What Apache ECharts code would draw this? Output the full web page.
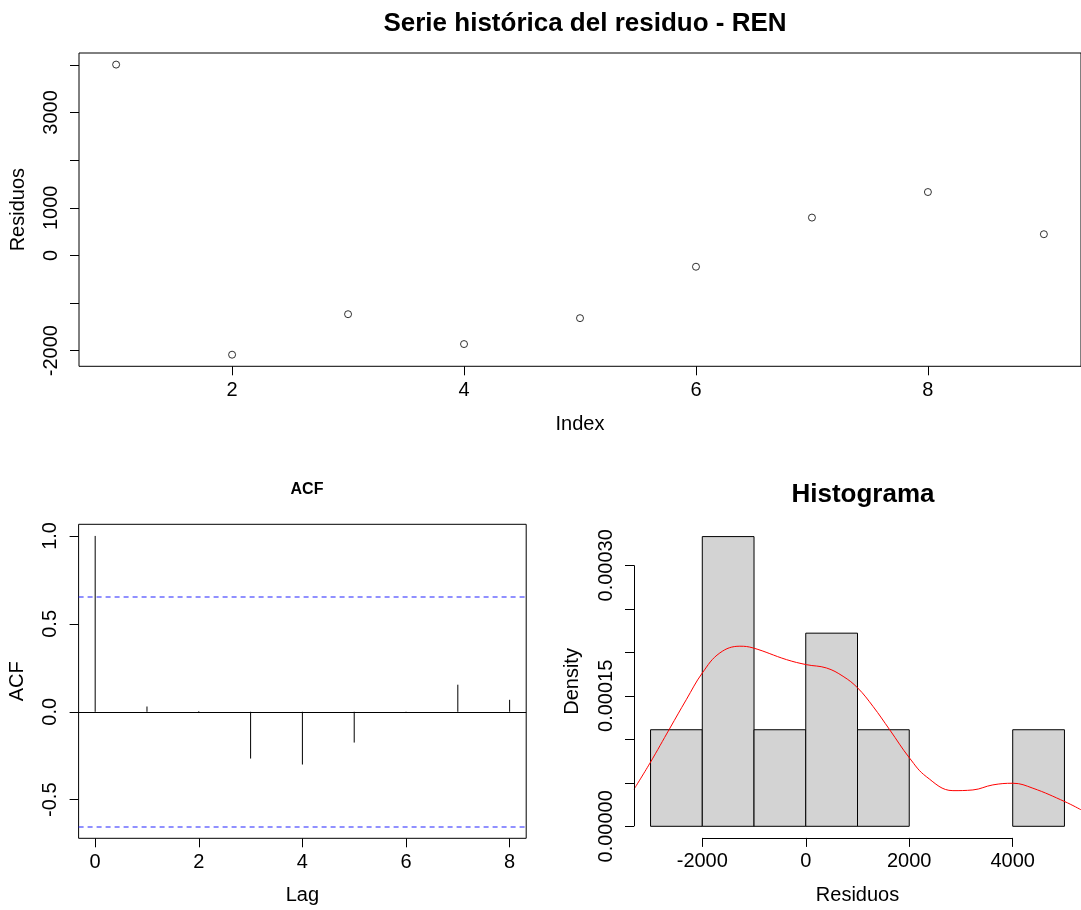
<!DOCTYPE html>
<html>
<head>
<meta charset="utf-8">
<script src="https://cdn.jsdelivr.net/npm/echarts@6/dist/echarts.min.js"></script>
<style>
html,body{margin:0;padding:0;background:#fff;}
#chart{width:1081px;height:910px;}
</style>
</head>
<body>
<div id="chart"></div>
<script>
// ---- Data ----
const indexValues = [1, 2, 3, 4, 5, 6, 7, 8, 9];
const residuals = [4005, -2084, -1234, -1861, -1317, -238, 794, 1330, 445];

const acfLags = [0, 1, 2, 3, 4, 5, 6, 7, 8];
const acfValues = [1.0, 0.03, 0.004, -0.266, -0.30, -0.175, -0.004, 0.154, 0.068];
const acfLimit = 0.6533;

const histBreaks = [-3000, -2000, -1000, 0, 1000, 2000, 3000, 4000, 5000];
const histDensity = [0.000111, 0.000333, 0.000111, 0.000222, 0.000111, 0, 0, 0.000111];

const densityX = [-3320, -3012, -2625, -2310, -2000, -1660, -1274, -1017, -373, 13, 399, 721, 1004, 1300, 1622, 2008, 2330, 2844, 3230, 3616, 4004, 4390, 5010, 5320];
const densityY = [4.26e-5, 7.26e-5, 1.129e-4, 1.455e-4, 1.762e-4, 1.993e-4, 2.07e-4, 2.05e-4, 1.916e-4, 1.858e-4, 1.82e-4, 1.724e-4, 1.59e-4, 1.378e-4, 1.11e-4, 7.83e-5, 5.71e-5, 4.1e-5, 4.18e-5, 4.76e-5, 4.95e-5, 4.38e-5, 2.83e-5, 1.9e-5];

const topXTicks = [2, 4, 6, 8];
const topYTicks = [-2000, -1000, 0, 1000, 2000, 3000, 4000];
const topYLabels = [-2000, 0, 1000, 3000];
const acfXTicks = [0, 2, 4, 6, 8];
const acfYTicks = [-0.5, 0, 0.5, 1.0];
const histXTicks = [-2000, 0, 2000, 4000];
const histYTicks = [0, 0.00005, 0.0001, 0.00015, 0.0002, 0.00025, 0.0003];
const histYLabels = [0, 0.00015, 0.0003];

// ---- R-like 4% axis padding ----
function pad(lo, hi) { const d = (hi - lo) * 0.04; return [lo - d, hi + d]; }
const topX = pad(Math.min(...indexValues), Math.max(...indexValues));
const topY = pad(Math.min(...residuals), Math.max(...residuals));
const acfX = pad(0, acfLags[acfLags.length - 1]);
const acfY = pad(Math.min(-acfLimit, ...acfValues), 1);
const hX = pad(histBreaks[0], histBreaks[histBreaks.length - 1]);
const hY = pad(0, Math.max(...histDensity));

const FONT = 'Liberation Sans, Arial, sans-serif';
const BLACK = '#000';
const lbl = (extra) => Object.assign({ color: BLACK, fontSize: 20, fontFamily: FONT }, extra || {});
const tick = (vals) => ({ show: true, inside: false, length: 9, lineStyle: { color: BLACK, width: 1 }, customValues: vals });
const noLine = { show: false, onZero: false };
const nameStyle = { color: BLACK, fontSize: 20, fontFamily: FONT };

const chart = echarts.init(document.getElementById('chart'), null, { renderer: 'canvas' });

const histRects = histDensity.map((d, i) => [histBreaks[i], histBreaks[i + 1], d]);
// horizontal reference lines of the ACF panel: [value, kind]
const acfHLines = [[0, 0], [acfLimit, 1], [-acfLimit, 1]];

const option = {
  backgroundColor: '#fff',
  animation: false,
  title: [
    { text: 'Serie histórica del residuo - REN', left: 580, top: 6, textAlign: 'center',
      textStyle: { fontSize: 26, fontWeight: 'bold', color: BLACK, fontFamily: FONT } },
    { text: 'ACF', left: 302, top: 477, textAlign: 'center',
      textStyle: { fontSize: 16, fontWeight: 'bold', color: BLACK, fontFamily: FONT } },
    { text: 'Histograma', left: 858, top: 477, textAlign: 'center',
      textStyle: { fontSize: 26, fontWeight: 'bold', color: BLACK, fontFamily: FONT } }
  ],
  grid: [
    { left: 78.7, right: 0, top: 53, bottom: 543.7, show: true, borderColor: BLACK, borderWidth: 1, containLabel: false },
    { left: 78.6, right: 554.8, top: 524.3, bottom: 71.7, show: true, borderColor: BLACK, borderWidth: 1, containLabel: false },
    { left: 634, right: 0, top: 525, bottom: 72.1, show: false, containLabel: false }
  ],
  xAxis: [
    { gridIndex: 0, type: 'value', min: topX[0], max: topX[1], splitLine: { show: false },
      axisLine: noLine, axisTick: tick(topXTicks),
      axisLabel: lbl({ margin: 14, customValues: topXTicks, formatter: v => String(v) }),
      name: 'Index', nameLocation: 'middle', nameGap: 48, nameTextStyle: nameStyle },
    { gridIndex: 1, type: 'value', min: acfX[0], max: acfX[1], splitLine: { show: false },
      axisLine: noLine, axisTick: tick(acfXTicks),
      axisLabel: lbl({ margin: 14, customValues: acfXTicks, formatter: v => String(v) }),
      name: 'Lag', nameLocation: 'middle', nameGap: 47, nameTextStyle: nameStyle },
    { gridIndex: 2, type: 'value', min: hX[0], max: hX[1], splitLine: { show: false },
      axisLine: noLine, axisTick: tick(histXTicks),
      axisLabel: lbl({ margin: 14, customValues: histXTicks, formatter: v => String(v) }),
      name: 'Residuos', nameLocation: 'middle', nameGap: 48, nameTextStyle: nameStyle }
  ],
  yAxis: [
    { gridIndex: 0, type: 'value', min: topY[0], max: topY[1], splitLine: { show: false },
      axisLine: noLine, axisTick: tick(topYTicks),
      axisLabel: lbl({ margin: 18, rotate: 90, customValues: topYLabels, formatter: v => String(v) }),
      name: 'Residuos', nameLocation: 'middle', nameGap: 51, nameTextStyle: nameStyle },
    { gridIndex: 1, type: 'value', min: acfY[0], max: acfY[1], splitLine: { show: false },
      axisLine: noLine, axisTick: tick(acfYTicks),
      axisLabel: lbl({ margin: 18, rotate: 90, customValues: acfYTicks, formatter: v => v.toFixed(1) }),
      name: 'ACF', nameLocation: 'middle', nameGap: 51, nameTextStyle: nameStyle },
    { gridIndex: 2, type: 'value', min: hY[0], max: hY[1], splitLine: { show: false },
      axisLine: noLine, axisTick: tick(histYTicks),
      axisLabel: lbl({ margin: 18, rotate: 90, customValues: histYLabels, formatter: v => v.toFixed(5) }),
      name: 'Density', nameLocation: 'middle', nameGap: 52, nameTextStyle: nameStyle }
  ],
  series: [
    { type: 'scatter', xAxisIndex: 0, yAxisIndex: 0,
      data: indexValues.map((x, i) => [x, residuals[i]]),
      symbol: 'circle', symbolSize: 7,
      itemStyle: { color: 'rgba(0,0,0,0)', borderColor: BLACK, borderWidth: 1 }, silent: true },
    { type: 'custom', xAxisIndex: 1, yAxisIndex: 1, silent: true,
      data: acfHLines,
      renderItem: function (params, api) {
        const cs = params.coordSys;
        const p = api.coord([acfX[0], api.value(0)]);
        const dashed = api.value(1) === 1;
        const y = dashed ? Math.round(p[1]) : Math.round(p[1]) + 0.5;
        return { type: 'line', shape: { x1: cs.x, y1: y, x2: cs.x + cs.width, y2: y },
          style: { stroke: dashed ? '#2222FF' : BLACK, lineWidth: dashed ? 1.2 : 1, lineDash: dashed ? [5, 4] : null } };
      } },
    { type: 'custom', xAxisIndex: 1, yAxisIndex: 1, silent: true,
      data: acfLags.map((l, i) => [l, acfValues[i]]),
      renderItem: function (params, api) {
        const p0 = api.coord([api.value(0), 0]);
        const p1 = api.coord([api.value(0), api.value(1)]);
        return { type: 'line', shape: { x1: p0[0], y1: p0[1], x2: p1[0], y2: p1[1] },
          style: { stroke: BLACK, lineWidth: 1 } };
      } },
    { type: 'custom', xAxisIndex: 2, yAxisIndex: 2, data: histRects, clip: false, silent: true,
      renderItem: function (params, api) {
        const a = api.coord([api.value(0), api.value(2)]);
        const b = api.coord([api.value(1), 0]);
        if (api.value(2) <= 0) return null;
        return { type: 'rect', shape: { x: a[0], y: a[1], width: b[0] - a[0], height: b[1] - a[1] },
          style: { fill: '#D3D3D3', stroke: BLACK, lineWidth: 1 } };
      },
      markLine: { silent: true, symbol: 'none', label: { show: false },
        lineStyle: { color: BLACK, width: 1, type: 'solid' },
        data: [
          [{ coord: [hX[0], histYTicks[0]] }, { coord: [hX[0], histYTicks[histYTicks.length - 1]] }],
          [{ coord: [histXTicks[0], hY[0]] }, { coord: [histXTicks[histXTicks.length - 1], hY[0]] }]
        ] } },
    { type: 'line', xAxisIndex: 2, yAxisIndex: 2, smooth: 0.4, showSymbol: false, silent: true,
      data: densityX.map((x, i) => [x, densityY[i]]),
      lineStyle: { color: '#FF0000', width: 1 } }
  ]
};
chart.setOption(option);
</script>
</body>
</html>
